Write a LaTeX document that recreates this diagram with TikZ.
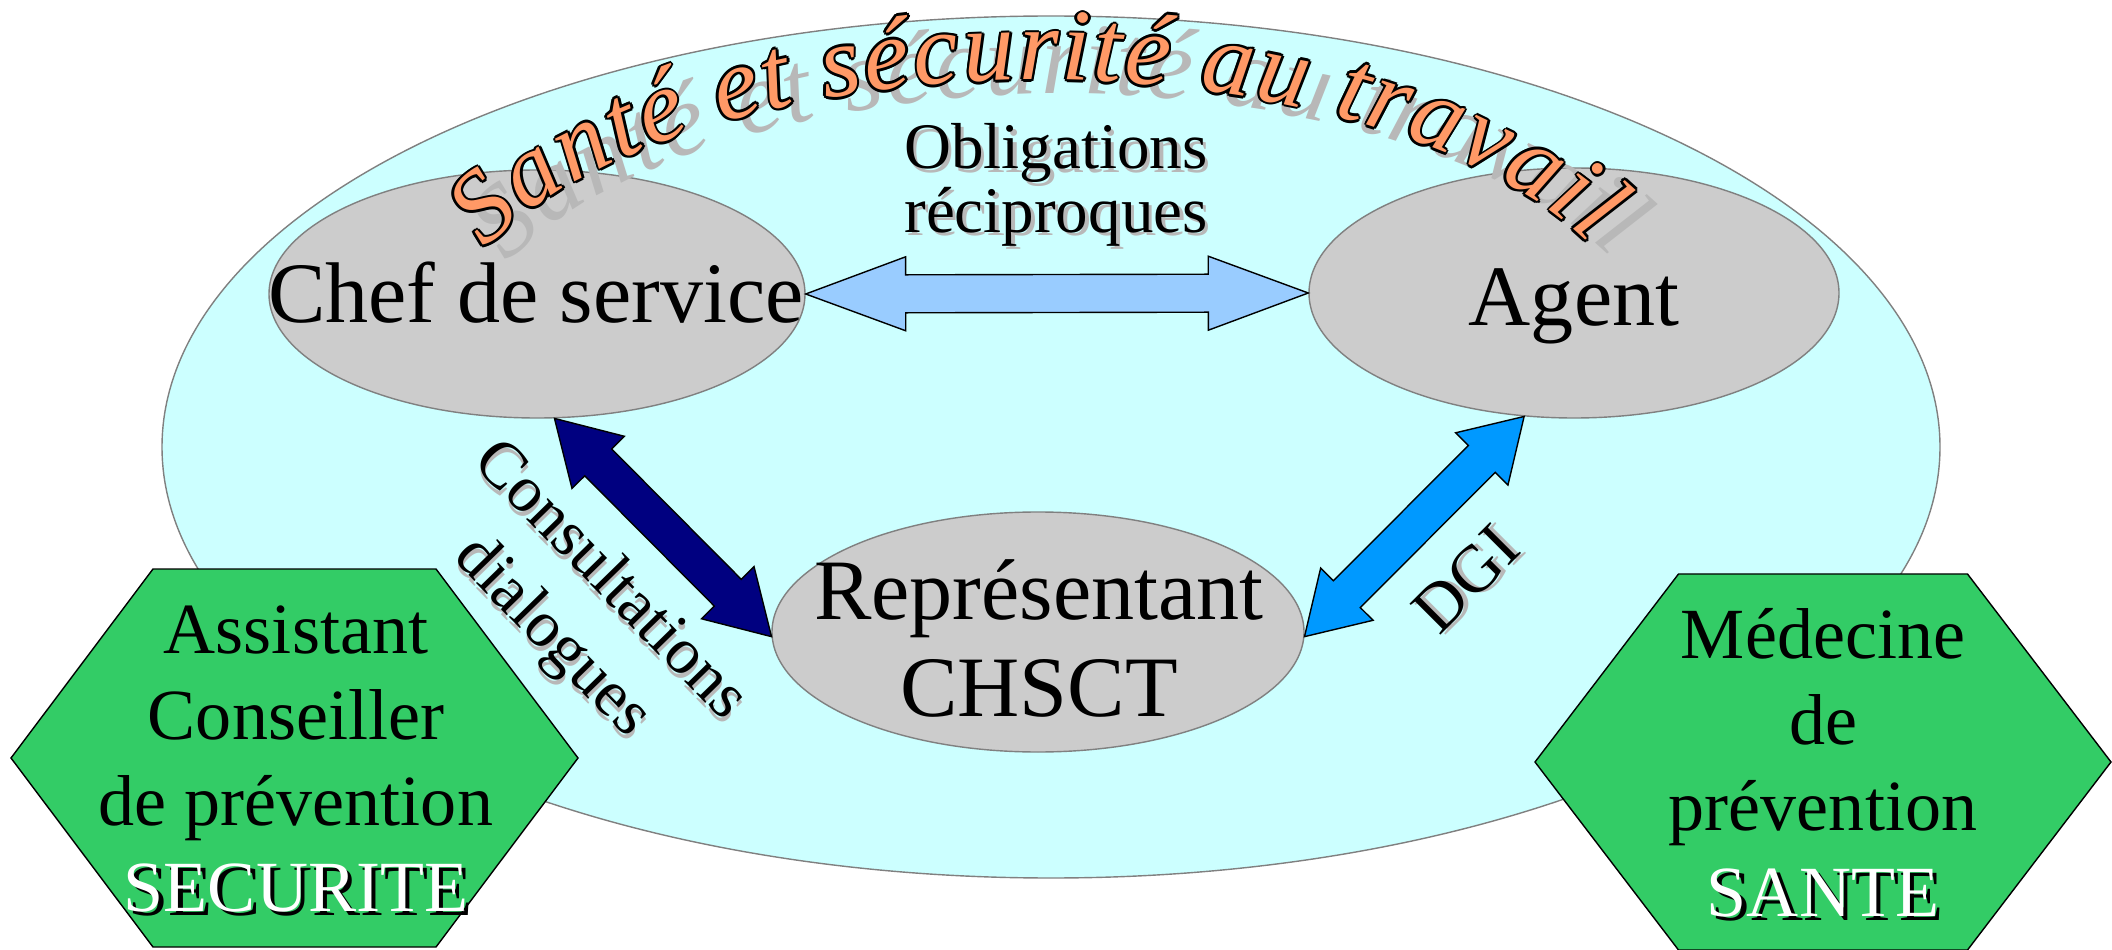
\documentclass[tikz,border=0pt]{standalone}
\usepackage{fontspec}
\setmainfont{Liberation Serif}
\newfontfamily\titlefnt{Liberation Serif}
\usetikzlibrary{shapes.geometric,calc,decorations.text,positioning}

\definecolor{skyfill}{HTML}{CCFFFF}
\definecolor{ovalfill}{HTML}{CCCCCC}
\definecolor{hexgreen}{HTML}{33CC66}
\definecolor{paleblue}{HTML}{99CCFF}
\definecolor{navyarrow}{HTML}{000080}
\definecolor{dgiblue}{HTML}{0099FF}
\definecolor{titleorange}{HTML}{FF9966}
\definecolor{shadowgray}{HTML}{B8B8B8}

% text with a small grey shadow, white text with a black one
\newcommand{\shad}[1]{\makebox[0pt][l]{\hspace{1pt}\raisebox{-1pt}{\textcolor{shadowgray}{#1}}}#1}
\newcommand{\wshad}[1]{\makebox[0pt][l]{\hspace{1.2pt}\raisebox{-1.2pt}{#1}}\textcolor{white}{#1}}

% fat double arrow: fill, from, to, head length
\newcommand{\fatarrow}[4]{%
  \coordinate (fa1) at ($(#2)!#4!(#3)$);
  \coordinate (fa2) at ($(#3)!#4!(#2)$);
  \filldraw[fill=#1, draw=black, line width=0.4pt]
    (#2) -- ($(fa1)!0.37cm!90:(#3)$) -- ($(fa1)!0.19cm!90:(#3)$)
    -- ($(fa2)!0.19cm!-90:(#2)$) -- ($(fa2)!0.37cm!-90:(#2)$) -- (#3)
    -- ($(fa2)!0.37cm!90:(#2)$) -- ($(fa2)!0.19cm!90:(#2)$)
    -- ($(fa1)!0.19cm!-90:(#3)$) -- ($(fa1)!0.37cm!-90:(#3)$) -- cycle;
}

\tikzset{
  bigoval/.style={ellipse, draw=gray, fill=skyfill, line width=0.4pt, inner sep=0pt},
  oval/.style={ellipse, draw=gray, fill=ovalfill, line width=0.4pt, inner sep=0pt},
  hexa/.style={draw=black, fill=hexgreen, line width=0.4pt},
  ovaltext/.style={font=\fontsize{24.5}{27.6}\selectfont, align=center, inner sep=0pt},
  hextext/.style={font=\fontsize{20.5}{24.5}\selectfont, align=center, inner sep=0pt},
  lbl/.style={font=\fontsize{18.5}{18}\selectfont, align=center, inner sep=0pt},
  titletext/.style={decorate, decoration={text effects along path,
      text={Santé et sécurité au travail},
      text effects/.cd, text along path, fit text to path,
      characters={text=#1, font=\titlefnt\itshape\fontsize{29}{29}\selectfont}}},
}

\begin{document}
\begin{tikzpicture}
 \useasboundingbox (0,0) rectangle (21.12,-9.5);
 % background
 \node[bigoval, minimum width=17.78cm, minimum height=8.62cm] (sst) at (10.51,-4.47) {};

 % hexagons
 \coordinate (secu-c) at (2.945,-7.58);
 \coordinate (sante-c) at (18.23,-7.62);
 \draw[hexa] ($(secu-c)+(-2.835,0)$) -- ++(1.42,1.89) -- ++(2.83,0) -- ++(1.42,-1.89)
   -- ++(-1.42,-1.89) -- ++(-2.83,0) -- cycle;
 \draw[hexa] ($(sante-c)+(-2.88,0)$) -- ++(1.435,1.88) -- ++(2.89,0) -- ++(1.435,-1.88)
   -- ++(-1.435,-1.88) -- ++(-2.89,0) -- cycle;

 % ovals
 \node[oval, minimum width=5.36cm, minimum height=2.48cm] (chef) at (5.37,-2.94) {};
 \node[oval, minimum width=5.30cm, minimum height=2.50cm] (agent) at (15.74,-2.93) {};
 \node[oval, minimum width=5.32cm, minimum height=2.40cm] (rep) at (10.38,-6.32) {};

 % arrows
 \fatarrow{paleblue}{chef.east}{agent.west}{1.0cm}
 \fatarrow{navyarrow}{chef.-82}{rep.181}{0.62cm}
 \fatarrow{dgiblue}{agent.-112}{rep.-1}{0.6cm}

 % texts
 \node[ovaltext, anchor=base] (chef-t) at (5.36,-3.23) {Chef de service};
 \node[ovaltext, anchor=base] (agent-t) at (15.74,-3.26) {Agent};
 \node[ovaltext] (rep-t) at (10.39,-6.38) {Représentant\\CHSCT};
 \node[lbl] (oblig) at (10.56,-1.865) {\shad{Obligations}\\\shad{réciproques}};
 \node[lbl, font=\fontsize{18.7}{23}\selectfont, rotate=-45.7] (consult) at (5.79,-6.11)
   {\shad{Consultations}\\\shad{dialogues}};
 \node[lbl, font=\fontsize{19}{19}\selectfont, rotate=45] (dgi) at (14.67,-5.80) {\shad{DGI}};
 \node[hextext] (secu) at (2.96,-7.61) {Assistant\\Conseiller\\de prévention\\\wshad{SECURITE}};
 \node[hextext] (sante) at (18.23,-7.65) {Médecine\\de\\prévention\\\wshad{SANTE}};

 % title, shadow then outline then fill
 \path[titletext=shadowgray] (5.069,-2.637) arc[start angle=155.5, end angle=25.6, x radius=6.1, y radius=2.9];
 \foreach \dx/\dy in {0.75/0,-0.75/0,0/0.75,0/-0.75,0.53/0.53,0.53/-0.53,-0.53/0.53,-0.53/-0.53} {
  \path[titletext=black, xshift=\dx pt, yshift=\dy pt] (4.849,-2.497) arc[start angle=155.5, end angle=25.6, x radius=6.1, y radius=2.9];
 }
 \path[titletext=titleorange] (4.849,-2.497) arc[start angle=155.5, end angle=25.6, x radius=6.1, y radius=2.9];
\end{tikzpicture}
\end{document}
